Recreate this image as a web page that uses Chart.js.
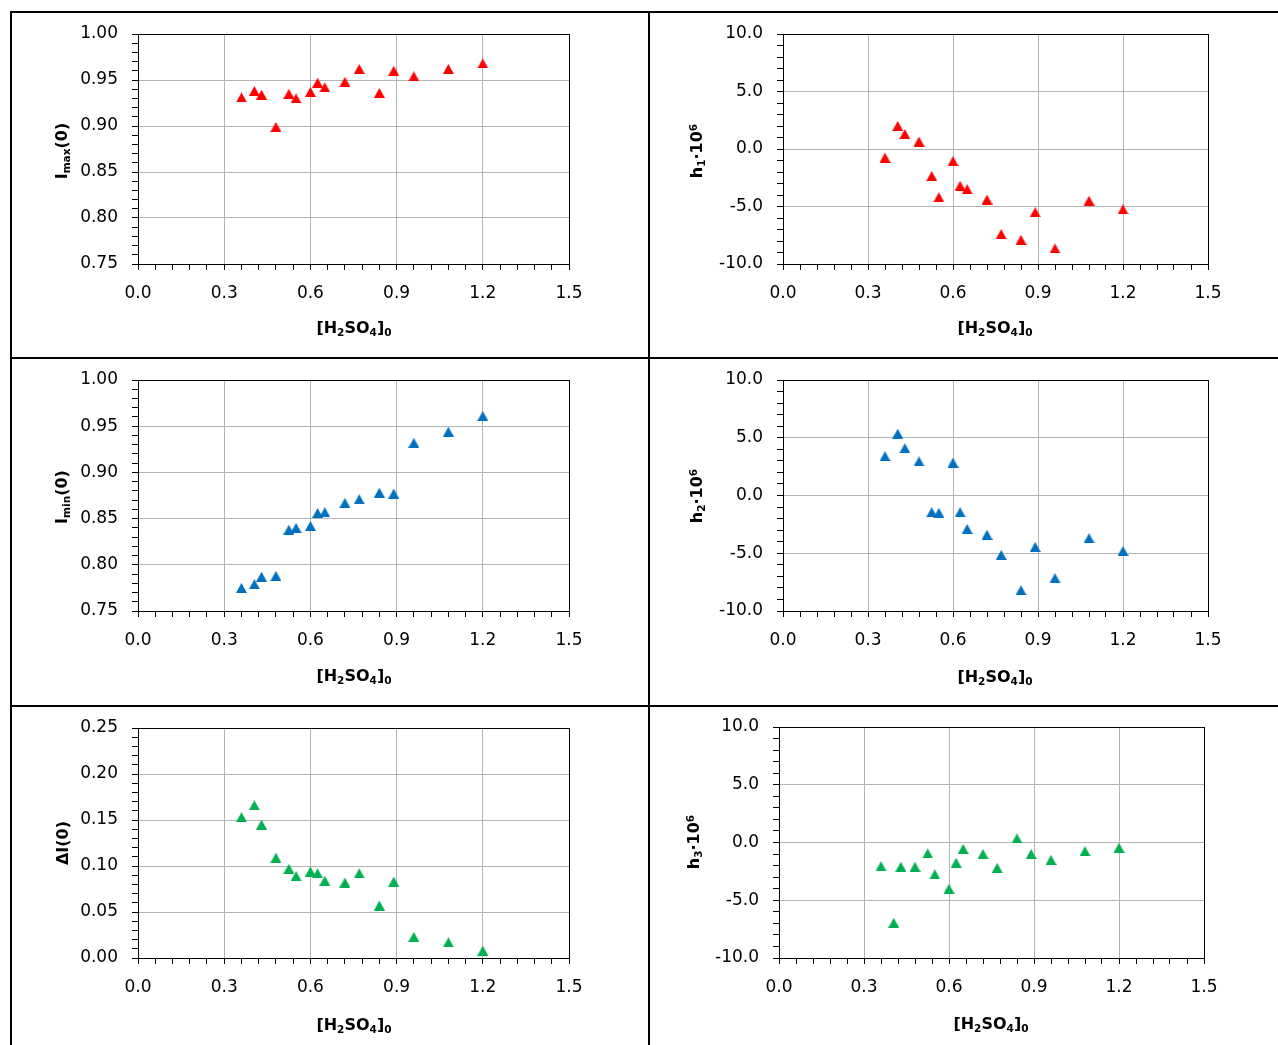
<!DOCTYPE html>
<html>
<head>
<meta charset="utf-8">
<title>Sulfuric acid series</title>
<script src="https://cdn.jsdelivr.net/npm/chart.js@4/dist/chart.umd.min.js"></script>
<style>
  html, body { margin: 0; padding: 0; background: #fff; }
  body { position: relative; width: 1278px; height: 1045px; overflow: hidden; font-family: "DejaVu Sans", sans-serif; color: #000; }
  .rule { position: absolute; background: #000; z-index: 3; }
  .panel { position: absolute; z-index: 1; }
  .title { position: absolute; z-index: 2; font-family: "DejaVu Sans", sans-serif; font-weight: bold; font-size: 16px; line-height: 1; white-space: nowrap; }
  .xt { transform: translate(-50%, -50%); }
  .yt { transform: translate(-50%, -50%) rotate(-90deg); }
  .sub { font-size: 0.66em; position: relative; top: 0.32em; }
  .sup { font-size: 0.66em; position: relative; top: -0.5em; }
</style>
</head>
<body>

<!-- table rules -->
<div class="rule" style="left:10px; top:11px; width:1268px; height:2px;"></div>
<div class="rule" style="left:10px; top:357px; width:1268px; height:2px;"></div>
<div class="rule" style="left:10px; top:705px; width:1268px; height:2px;"></div>
<div class="rule" style="left:10px; top:11px; width:2px; height:1034px;"></div>
<div class="rule" style="left:648px; top:11px; width:2px; height:1034px;"></div>

<canvas id="c1" class="panel"></canvas>
<canvas id="c2" class="panel"></canvas>
<canvas id="c3" class="panel"></canvas>
<canvas id="c4" class="panel"></canvas>
<canvas id="c5" class="panel"></canvas>
<canvas id="c6" class="panel"></canvas>

<!-- axis titles -->
<div class="title yt" style="left:62px; top:151px;">I<span class="sub">max</span>(0)</div>
<div class="title xt" style="left:354px; top:328px;">[H<span class="sub">2</span>SO<span class="sub">4</span>]<span class="sub">0</span></div>

<div class="title yt" style="left:697px; top:151px;">h<span class="sub">1</span>·10<span class="sup">6</span></div>
<div class="title xt" style="left:995px; top:328px;">[H<span class="sub">2</span>SO<span class="sub">4</span>]<span class="sub">0</span></div>

<div class="title yt" style="left:62px; top:497px;">I<span class="sub">min</span>(0)</div>
<div class="title xt" style="left:354px; top:676px;">[H<span class="sub">2</span>SO<span class="sub">4</span>]<span class="sub">0</span></div>

<div class="title yt" style="left:697px; top:496px;">h<span class="sub">2</span>·10<span class="sup">6</span></div>
<div class="title xt" style="left:995px; top:677px;">[H<span class="sub">2</span>SO<span class="sub">4</span>]<span class="sub">0</span></div>

<div class="title yt" style="left:63px; top:843px;">ΔI(0)</div>
<div class="title xt" style="left:354px; top:1025px;">[H<span class="sub">2</span>SO<span class="sub">4</span>]<span class="sub">0</span></div>

<div class="title yt" style="left:694px; top:842px;">h<span class="sub">3</span>·10<span class="sup">6</span></div>
<div class="title xt" style="left:991px; top:1024px;">[H<span class="sub">2</span>SO<span class="sub">4</span>]<span class="sub">0</span></div>

<script>
// Initial acid concentration shared by every panel
const concentration = [0.36, 0.405, 0.43, 0.48, 0.525, 0.55, 0.60, 0.625, 0.65, 0.72, 0.77, 0.84, 0.89, 0.96, 1.08, 1.20];

// Measured series, one per panel
const iMax   = [0.931, 0.938, 0.934, 0.899, 0.935, 0.930, 0.937, 0.947, 0.942, 0.948, 0.962, 0.936, 0.960, 0.954, 0.962, 0.968];
const h1     = [-0.75, 2.0, 1.3, 0.65, -2.35, -4.2, -1.05, -3.2, -3.5, -4.4, -7.4, -7.9, -5.5, -8.65, -4.5, -5.25];
const iMin   = [0.775, 0.779, 0.787, 0.788, 0.838, 0.840, 0.842, 0.856, 0.857, 0.867, 0.871, 0.878, 0.877, 0.932, 0.944, 0.961];
const h2     = [3.4, 5.35, 4.1, 2.95, -1.45, -1.5, 2.85, -1.45, -2.9, -3.4, -5.15, -8.2, -4.45, -7.15, -3.7, -4.8];
const deltaI = [0.153, 0.166, 0.145, 0.109, 0.097, 0.089, 0.094, 0.092, 0.084, 0.082, 0.092, 0.057, 0.083, 0.023, 0.017, 0.008];
const h3     = [-2.05, -6.95, -2.1, -2.1, -0.95, -2.75, -4.0, -1.75, -0.55, -1.0, -2.2, 0.35, -1.0, -1.5, -0.75, -0.45];

// Labelled (major) tick values
const concentrationTicks = [0.0, 0.3, 0.6, 0.9, 1.2, 1.5];
const intensityTicks     = [0.75, 0.80, 0.85, 0.90, 0.95, 1.00];
const deltaTicks         = [0.00, 0.05, 0.10, 0.15, 0.20, 0.25];
const coefficientTicks   = [-10, -5, 0, 5, 10];

const RED = '#FF0000', BLUE = '#0070C0', GREEN = '#00B050';
const GRID = '#b3b3b3';
const TICK_FONT = { family: '"DejaVu Sans", sans-serif', size: 17 };

// Triangle marker as a small bitmap, centred on the data point
function triangleMarker(color) {
  const c = document.createElement('canvas');
  c.width = 11; c.height = 10;
  const g = c.getContext('2d');
  g.fillStyle = color;
  g.beginPath();
  g.moveTo(5.5, 0);
  g.lineTo(11, 10);
  g.lineTo(0, 10);
  g.closePath();
  g.fill();
  return c;
}

const isMajor = (v, list) => list.some(m => Math.abs(m - v) < 1e-9);

// Black frame round the plot area
const plotFrame = {
  id: 'plotFrame',
  beforeDatasetsDraw(chart) {
    const a = chart.chartArea, ctx = chart.ctx;
    ctx.save();
    ctx.strokeStyle = '#000';
    ctx.lineWidth = 1;
    const l = Math.round(a.left), t = Math.round(a.top), r = Math.round(a.right), b = Math.round(a.bottom);
    ctx.strokeRect(l + 0.5, t + 0.5, r - l, b - t);
    ctx.restore();
  }
};

// Axis box sizes and outer margins; margins exceed the room the tick labels ask for
const Y_W = 80, X_H = 50;
const PAD_L = 100, PAD_T = 40, PAD_R = 45, PAD_B = 60;

function panel(id, values, color, yMin, yMax, yStep, yMajor, yDigits, plot) {
  const [pl, pt, pr, pb] = plot;
  const cv = document.getElementById(id);
  const w = (pr - pl) + PAD_L + PAD_R;
  const h = (pb - pt) + PAD_T + PAD_B;
  cv.width = w; cv.height = h;
  cv.style.left = (pl - PAD_L) + 'px';
  cv.style.top = (pt - PAD_T) + 'px';
  cv.style.width = w + 'px';
  cv.style.height = h + 'px';

  return new Chart(cv, {
    type: 'scatter',
    data: {
      datasets: [{
        data: concentration.map((x, i) => ({ x, y: values[i] })),
        pointStyle: triangleMarker(color),
        pointRadius: 6,
        backgroundColor: color,
        borderColor: color,
        showLine: false,
        clip: false
      }]
    },
    options: {
      responsive: false,
      animation: false,
      events: [],
      layout: { padding: { left: PAD_L - Y_W, top: PAD_T, right: PAD_R, bottom: PAD_B - X_H } },
      plugins: { legend: { display: false }, tooltip: { enabled: false } },
      scales: {
        x: {
          type: 'linear', min: 0, max: 1.5,
          afterFit: s => { s.height = X_H; },
          border: { color: '#000', width: 1 },
          grid: {
            color: c => (c.tick && isMajor(c.tick.value, concentrationTicks)) ? GRID : 'rgba(0,0,0,0)',
            tickColor: '#000', tickLength: 6, lineWidth: 1
          },
          ticks: {
            stepSize: 0.06, autoSkip: false, maxRotation: 0, minRotation: 0,
            padding: 13, color: '#000', font: TICK_FONT,
            callback: v => isMajor(v, concentrationTicks) ? v.toFixed(1) : ''
          }
        },
        y: {
          type: 'linear', min: yMin, max: yMax,
          afterFit: s => { s.width = Y_W; },
          border: { color: '#000', width: 1 },
          grid: {
            color: c => (c.tick && isMajor(c.tick.value, yMajor)) ? GRID : 'rgba(0,0,0,0)',
            tickColor: '#000', tickLength: 6, lineWidth: 1
          },
          ticks: {
            stepSize: yStep, autoSkip: false,
            padding: 14, color: '#000', font: TICK_FONT,
            callback: v => isMajor(v, yMajor) ? v.toFixed(yDigits) : ''
          }
        }
      }
    },
    plugins: [plotFrame]
  });
}

panel('c1', iMax,   RED,   0.75, 1.00, 0.01, intensityTicks,   2, [138, 34, 569, 264]);
panel('c2', h1,     RED,   -10,  10,   1,    coefficientTicks, 1, [783, 34, 1208, 264]);
panel('c3', iMin,   BLUE,  0.75, 1.00, 0.01, intensityTicks,   2, [138, 380, 569, 611]);
panel('c4', h2,     BLUE,  -10,  10,   1,    coefficientTicks, 1, [783, 380, 1208, 611]);
panel('c5', deltaI, GREEN, 0.00, 0.25, 0.01, deltaTicks,       2, [138, 728, 569, 958]);
panel('c6', h3,     GREEN, -10,  10,   1,    coefficientTicks, 1, [779, 727, 1204, 958]);
</script>
</body>
</html>
